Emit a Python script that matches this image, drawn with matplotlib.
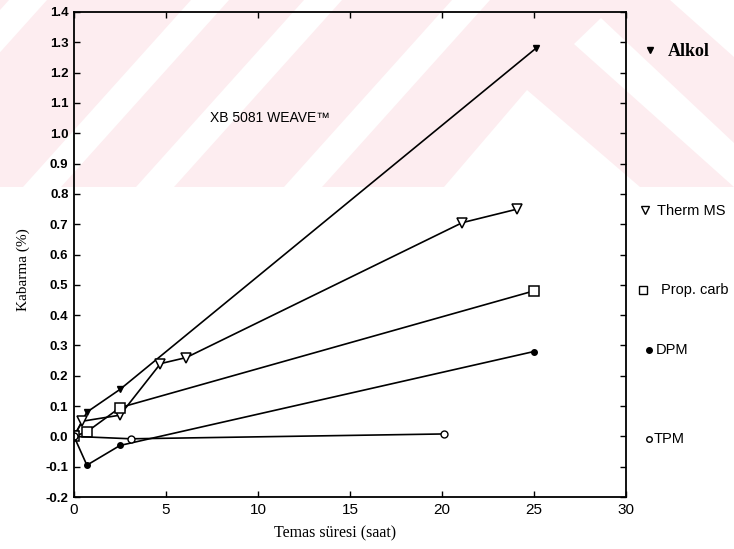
import matplotlib.pyplot as plt
from matplotlib.patches import Polygon
from matplotlib.lines import Line2D
import numpy as np

# values
alkol_x = [0, 0.7, 2.5, 25.1]
alkol_y = [0, 0.08, 0.155, 1.28]
therm_x = [0, 0.45, 2.5, 4.7, 6.1, 21.1, 24.1]
therm_y = [0, 0.05, 0.07, 0.24, 0.26, 0.705, 0.75]
prop_x = [0, 0.7, 2.5, 25.0]
prop_y = [0, 0.015, 0.095, 0.48]
dpm_x = [0, 0.7, 2.5, 25.0]
dpm_y = [0, -0.095, -0.03, 0.28]
tpm_x = [0, 3.1, 20.1]
tpm_y = [0, -0.008, 0.008]

xticks = [0, 5, 10, 15, 20, 25, 30]
yticks = [-0.2, -0.1, 0.0, 0.1, 0.2, 0.3, 0.4, 0.5, 0.6, 0.7,
          0.8, 0.9, 1.0, 1.1, 1.2, 1.3, 1.4]
ytick_labels = ['-0.2', '-0.1', '0.0', '0.1', '0.2', '0.3', '0.4', '0.5', '0.6',
                '0.7', '0.8', '0.9', '1.0', '1.1', '1.2', '1.3', '1.4']

W, H = 734, 549


def px(x, y):
    # pixel position (from top-left) -> figure fraction
    return (x / W, 1 - y / H)


fig = plt.figure(figsize=(7.34, 5.49), dpi=100)
fig.patch.set_facecolor('white')

# pale watermark band behind the top of the chart
pink = '#fdedf0'
shapes = [
    ('pink', [(0, 0), (734, 0), (734, 187), (0, 187)]),
    ('white', [(670, 0), (734, 0), (734, 57)]),
    ('white', [(601, 18), (734, 143), (734, 187), (574, 44)]),
    ('white', [(527, 90), (640, 187), (444, 187)]),
]
for b in [-140, 42, 155, 303]:
    shapes.append(('white', [(b - 19, 187), (b + 19, 187),
                             (b + 19 + 168, 0), (b - 19 + 168, 0)]))
for col, pts in shapes:
    fig.patches.append(Polygon([px(*p) for p in pts], closed=True,
                               transform=fig.transFigure, zorder=-1,
                               facecolor=pink if col == 'pink' else 'white',
                               edgecolor='none'))

ax = fig.add_axes([74 / W, 1 - 497 / H, 552 / W, 485 / H])
ax.set_facecolor('none')

lw = 1.2
ax.plot(alkol_x, alkol_y, '-', color='black', lw=lw, marker='v', ms=5,
        mfc='black', mec='black')
ax.plot(therm_x, therm_y, '-', color='black', lw=lw, marker='v', ms=7,
        mfc='white', mec='black', mew=1.1)
ax.plot(prop_x, prop_y, '-', color='black', lw=lw, marker='s', ms=6.5,
        mfc='white', mec='black', mew=1.1)
ax.plot(dpm_x, dpm_y, '-', color='black', lw=lw, marker='o', ms=4,
        mfc='black', mec='black')
ax.plot(tpm_x, tpm_y, '-', color='black', lw=lw, marker='o', ms=5,
        mfc='white', mec='black', mew=1.0)

ax.set_xlim(0, 30)
ax.set_ylim(-0.2, 1.4)
ax.set_xticks(xticks)
ax.set_xticklabels([str(t) for t in xticks], family='Liberation Sans',
                   fontsize=11)
ax.set_yticks(yticks)
ax.set_yticklabels(ytick_labels, family='Liberation Sans', fontsize=9.5,
                   weight='bold')
ax.tick_params(direction='in', top=True, right=True, length=4, width=1.0,
               pad=4)
for s in ax.spines.values():
    s.set_linewidth(1.3)

ax.set_xlabel('Temas süresi (saat)', family='Liberation Serif', fontsize=11.5)
ax.xaxis.set_label_coords(0.473, -0.058)
ax.set_ylabel('Kabarma (%)', family='Liberation Serif', fontsize=11)
ax.yaxis.set_label_coords(-0.08, 0.468)

ax.text(7.4, 1.05, 'XB 5081 WEAVE™', family='Liberation Sans', fontsize=10,
        va='center', ha='left')

# legend entries at the right, outside the axes
legend_items = [
    ('Alkol', 'v', 'black', 5, (650, 50), (668, 52), 'Liberation Serif', 13, 'bold'),
    ('Therm MS', 'v', 'white', 6, (645, 210), (657, 211), 'Liberation Sans', 10.5, 'normal'),
    ('Prop. carb', 's', 'white', 5.5, (643, 290), (661, 290), 'Liberation Sans', 10.5, 'normal'),
    ('DPM', 'o', 'black', 4, (649, 350), (656, 350), 'Liberation Sans', 10.5, 'normal'),
    ('TPM', 'o', 'white', 4, (649, 439), (654, 439), 'Liberation Sans', 10.5, 'normal'),
]
for name, mk, fc, ms, mpos, tpos, fam, fs, wt in legend_items:
    mx, my = px(*mpos)
    fig.add_artist(Line2D([mx], [my], transform=fig.transFigure, marker=mk,
                          ms=ms, mfc=fc, mec='black', mew=1.0, ls='none'))
    tx, ty = px(*tpos)
    fig.text(tx, ty, name, family=fam, fontsize=fs, weight=wt, va='center',
             ha='left')

fig.savefig('out.png', dpi=100)
